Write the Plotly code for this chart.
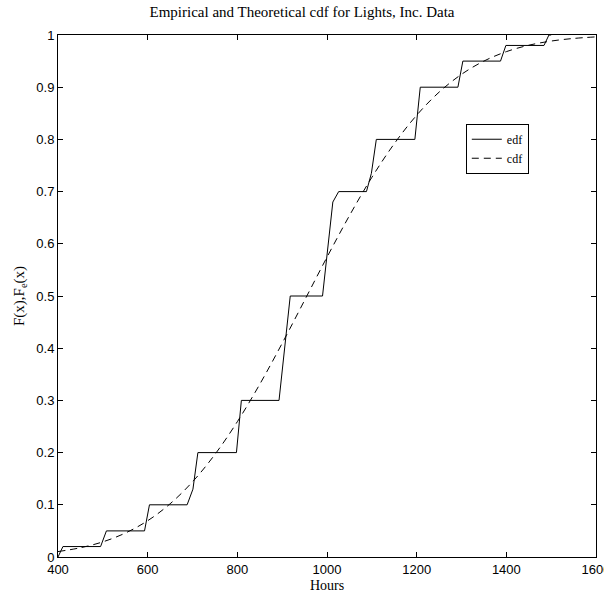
import plotly.graph_objects as go

# Empirical distribution function (edf) vertices
edf_hours = [400, 411, 495, 508, 593, 604, 688, 701, 712, 798, 809, 893, 918,
             990, 1013, 1026, 1088, 1099, 1110, 1196, 1208, 1292, 1303, 1387,
             1399, 1484, 1495, 1500]
edf_values = [0.0, 0.02, 0.02, 0.05, 0.05, 0.10, 0.10, 0.13, 0.20, 0.20, 0.30,
              0.30, 0.50, 0.50, 0.68, 0.70, 0.70, 0.735, 0.80, 0.80, 0.90, 0.90,
              0.95, 0.95, 0.98, 0.98, 1.0, 1.0]

# Theoretical cdf
cdf_hours = [400, 450, 500, 550, 600, 650, 700, 750, 800, 850, 900, 950, 1000,
             1050, 1100, 1150, 1200, 1250, 1300, 1350, 1400, 1450, 1500, 1550, 1600]
cdf_values = [0.0104, 0.0177, 0.0290, 0.0458, 0.0695, 0.1019, 0.1440, 0.1965,
              0.2592, 0.3309, 0.4094, 0.4917, 0.5744, 0.6539, 0.7272, 0.7917,
              0.8463, 0.8905, 0.9247, 0.9501, 0.9681, 0.9804, 0.9884, 0.9934, 0.9964]

x_ticks = [400, 600, 800, 1000, 1200, 1400, 1600]
y_ticks = [0, 0.1, 0.2, 0.3, 0.4, 0.5, 0.6, 0.7, 0.8, 0.9, 1]
y_tick_labels = ["0", "0.1", "0.2", "0.3", "0.4", "0.5", "0.6", "0.7", "0.8", "0.9", "1"]

fig = go.Figure()
fig.add_trace(go.Scatter(x=edf_hours, y=edf_values, mode="lines", name="edf",
                         line=dict(color="black", width=1)))
fig.add_trace(go.Scatter(x=cdf_hours, y=cdf_values, mode="lines", name="cdf",
                         line=dict(color="black", width=1, dash="7px,5px"),
                         line_shape="spline"))

axis_common = dict(showline=True, linecolor="black", linewidth=1, mirror="ticks",
                   ticks="inside", ticklen=5, tickcolor="black", showgrid=False,
                   zeroline=False, ticklabeloverflow="allow", automargin=False,
                   tickfont=dict(family="Liberation Sans, Arial", size=13, color="black"))

serif = "Liberation Serif, Times New Roman"

fig.update_layout(
    width=604, height=596,
    margin=dict(l=58, r=8, t=35, b=39),
    paper_bgcolor="white", plot_bgcolor="white",
    title=dict(text="Empirical and Theoretical cdf for Lights, Inc. Data",
               x=0.5, xanchor="center", xref="container",
               y=1 - 12 / 596, yanchor="middle", yref="container",
               font=dict(family=serif, size=15, color="black")),
    xaxis=dict(range=[400, 1600], tickvals=x_ticks,
               title=dict(text="Hours", standoff=4,
                          font=dict(family=serif, size=14, color="black")),
               **axis_common),
    yaxis=dict(range=[0, 1], tickvals=y_ticks, ticktext=y_tick_labels,
               title=dict(text="F(x),F<sub>e</sub>(x)", standoff=8,
                          font=dict(family=serif, size=15, color="black")),
               **axis_common),
    legend=dict(x=0.758, y=0.83, xanchor="left", yanchor="top",
                bordercolor="black", borderwidth=1, bgcolor="white",
                itemwidth=30, tracegroupgap=0,
                font=dict(family=serif, size=12, color="black")),
    showlegend=True,
)

fig.write_html("out.html")
